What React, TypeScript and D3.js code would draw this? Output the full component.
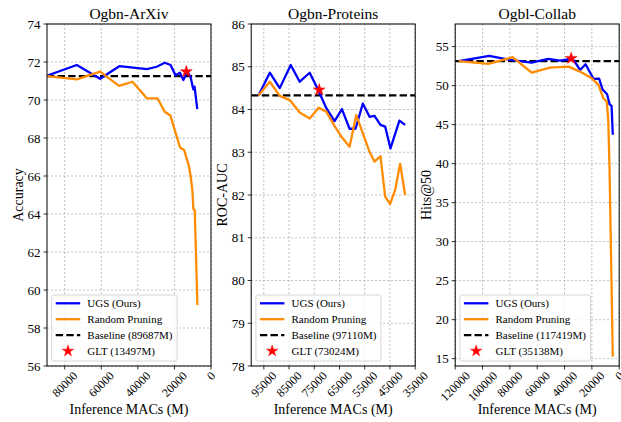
import React from "react";
import * as d3 from "d3";

const FONT = "'Liberation Serif', 'Times New Roman', Times, serif";

// ---------- Ogbn-ArXiv ----------
const arxivUgsMacs = [89687, 73400, 60650, 50200, 35000, 29700, 25300, 22100, 19400, 17000, 15100, 13000, 11200, 9700, 9000, 7500];
const arxivUgsAcc = [71.28, 71.84, 71.12, 71.78, 71.62, 71.75, 71.96, 71.84, 71.3, 71.44, 71.05, 71.49, 71.23, 70.56, 70.7, 69.52];
const arxivRandMacs = [89687, 73400, 60650, 50300, 42950, 35100, 29300, 25300, 22200, 16900, 14700, 12000, 11100, 10200, 9600, 8900, 7430];
const arxivRandAcc = [71.26, 71.09, 71.49, 70.74, 70.96, 70.09, 70.09, 69.38, 69.18, 67.5, 67.37, 66.49, 65.96, 65.26, 64.25, 64.21, 59.21];

// ---------- Ogbn-Proteins ----------
const proteinsUgsMacs = [97110, 92630, 88680, 84330, 80770, 76820, 73540, 70220, 66940, 64050, 61010, 58640, 55750, 53100, 51130, 48770, 46900, 44800, 41250, 39000];
const proteinsUgsAuc = [84.33, 84.86, 84.5, 85.04, 84.65, 84.86, 84.47, 84.03, 83.73, 84.01, 83.55, 83.55, 84.14, 83.83, 83.85, 83.64, 83.6, 83.09, 83.74, 83.64];
const proteinsRandMacs = [97110, 92630, 88680, 84720, 80770, 76820, 73260, 70220, 66940, 64050, 61010, 58360, 55750, 53100, 51130, 48770, 46900, 44920, 42940, 40970, 39000];
const proteinsRandAuc = [84.33, 84.65, 84.32, 84.22, 83.93, 83.79, 84.04, 83.95, 83.61, 83.35, 83.13, 83.87, 83.44, 83.01, 82.78, 82.91, 81.96, 81.79, 82.12, 82.73, 82.0];

// ---------- Ogbl-Collab ----------
const collabUgsMacs = [117419, 95090, 79930, 64030, 51870, 43300, 36480, 33040, 28640, 24600, 18750, 14700, 12150, 8860, 7030, 5570, 4690];
const collabUgsHits = [53.13, 53.81, 53.3, 52.95, 53.42, 53.2, 53.38, 53.2, 52.01, 52.74, 50.85, 50.9, 49.5, 48.9, 47.6, 47.4, 43.7];
const collabRandMacs = [117419, 95820, 77960, 64030, 50620, 37220, 28640, 20070, 15240, 11580, 9080, 8000, 7100, 4690];
const collabRandHits = [53.13, 52.78, 53.64, 51.67, 52.31, 52.44, 51.8, 50.95, 50.09, 48.38, 47.95, 45.6, 39.6, 15.26];

// ---------- per-panel settings ----------
const titles = ["Ogbn-ArXiv", "Ogbn-Proteins", "Ogbl-Collab"];
const yLabels = ["Accuracy", "ROC-AUC", "Hits@50"];
const xLabel = "Inference MACs (M)";
const baselineMacs = [89687, 97110, 117419];
const baselineValues = [71.26, 84.33, 53.13];
const gltMacs = [13497, 73024, 35138];
const gltValues = [71.49, 84.46, 53.5];
const xDomains = [[89687, 0], [100000, 35000], [120000, 0]];
const yDomains = [[56, 74], [78, 86], [14.06, 57.9]];
const xTicks = [
  [80000, 60000, 40000, 20000, 0],
  [95000, 85000, 75000, 65000, 55000, 45000, 35000],
  [120000, 100000, 80000, 60000, 40000, 20000, 0],
];
const yTicks = [
  [56, 58, 60, 62, 64, 66, 68, 70, 72, 74],
  [78, 79, 80, 81, 82, 83, 84, 85, 86],
  [15, 20, 25, 30, 35, 40, 45, 50, 55],
];
const legendNames = ["UGS (Ours)", "Random Pruning"];

const ugsX = [arxivUgsMacs, proteinsUgsMacs, collabUgsMacs];
const ugsY = [arxivUgsAcc, proteinsUgsAuc, collabUgsHits];
const randX = [arxivRandMacs, proteinsRandMacs, collabRandMacs];
const randY = [arxivRandAcc, proteinsRandAuc, collabRandHits];

// ---------- layout ----------
const W = 621;
const H = 422;
const TOP = 24;
const BOTTOM = 366;
const PANEL_W = 164;
const LEFTS = [47, 251.2, 455.2];
const BLUE = "#0000ff";
const ORANGE = "#ff8c00";

let ctx: CanvasRenderingContext2D | null = null;
function textWidth(s: string, size: number): number {
  if (!ctx) {
    const c = document.createElement("canvas");
    ctx = c.getContext("2d");
  }
  if (ctx) {
    ctx.font = `${size}px ${FONT}`;
    return ctx.measureText(s).width;
  }
  return s.length * size * 0.5;
}

function Panel({ i }: { i: number }) {
  const left = LEFTS[i];
  const right = left + PANEL_W;
  const x = d3.scaleLinear().domain(xDomains[i]).range([left, right]);
  const y = d3.scaleLinear().domain(yDomains[i]).range([BOTTOM, TOP]);
  const line = d3
    .line<[number, number]>()
    .x((d) => x(d[0]))
    .y((d) => y(d[1]));
  const ugs = ugsX[i].map((v, k) => [v, ugsY[i][k]] as [number, number]);
  const rnd = randX[i].map((v, k) => [v, randY[i][k]] as [number, number]);
  const star = d3.symbol(d3.symbolStar, 44)()!;
  const starLeg = d3.symbol(d3.symbolStar, 40)()!;
  const clipId = `clip${i}`;

  const tickFs = 12;
  const legFs = 11;
  const legendTexts = [
    legendNames[0],
    legendNames[1],
    `Baseline (${baselineMacs[i]}M)`,
    `GLT (${gltMacs[i]}M)`,
  ];
  const legW = Math.max(...legendTexts.map((t) => textWidth(t, legFs)));
  const boxX = left + 4.7;
  const boxY = 295;
  const boxH = 66;
  const textX = boxX + 35.6;
  const boxW = textX - boxX + legW + 4.6;

  return (
    <g>
      <defs>
        <clipPath id={clipId}>
          <rect x={left} y={TOP} width={PANEL_W} height={BOTTOM - TOP} />
        </clipPath>
      </defs>
      {/* grid */}
      {xTicks[i].map((t) => (
        <line key={"gx" + t} x1={x(t)} x2={x(t)} y1={TOP} y2={BOTTOM} stroke="#b0b0b0" strokeWidth={0.8} strokeDasharray="2,2" />
      ))}
      {yTicks[i].map((t) => (
        <line key={"gy" + t} x1={left} x2={right} y1={y(t)} y2={y(t)} stroke="#b0b0b0" strokeWidth={0.8} strokeDasharray="2,2" />
      ))}
      <g clipPath={`url(#${clipId})`}>
        <line
          x1={left}
          x2={right}
          y1={y(baselineValues[i])}
          y2={y(baselineValues[i])}
          stroke="#000"
          strokeWidth={2.3}
          strokeDasharray="7.4,3.2"
        />
        <path d={line(ugs) || ""} fill="none" stroke={BLUE} strokeWidth={2.3} strokeLinejoin="round" />
        <path d={line(rnd) || ""} fill="none" stroke={ORANGE} strokeWidth={2.3} strokeLinejoin="round" />
      </g>
      <path d={star} transform={`translate(${x(gltMacs[i])},${y(gltValues[i])})`} fill="red" stroke="red" strokeWidth={0.5} />
      {/* frame */}
      <rect x={left} y={TOP} width={PANEL_W} height={BOTTOM - TOP} fill="none" stroke="#000" strokeWidth={1} />
      {/* x ticks */}
      {xTicks[i].map((t) => {
        const label = String(t);
        const w = textWidth(label, tickFs);
        const bb = (w + tickFs * 1.1) * Math.SQRT1_2;
        const cy = BOTTOM + 3 + bb / 2;
        return (
          <g key={"xt" + t}>
            <line x1={x(t)} x2={x(t)} y1={BOTTOM} y2={BOTTOM + 3.5} stroke="#000" strokeWidth={0.8} />
            <text
              transform={`translate(${x(t)},${cy}) rotate(-45)`}
              textAnchor="middle"
              dominantBaseline="central"
              fontSize={tickFs}
              fontFamily={FONT}
              fill="#000"
            >
              {label}
            </text>
          </g>
        );
      })}
      {/* y ticks */}
      {yTicks[i].map((t) => (
        <g key={"yt" + t}>
          <line x1={left - 3.5} x2={left} y1={y(t)} y2={y(t)} stroke="#000" strokeWidth={0.8} />
          <text x={left - 6.5} y={y(t)} dy="0.35em" textAnchor="end" fontSize={13} fontFamily={FONT} fill="#000">
            {t}
          </text>
        </g>
      ))}
      {/* title */}
      <text x={left + PANEL_W / 2} y={18.5} textAnchor="middle" fontSize={15.5} fontFamily={FONT} fill="#000">
        {titles[i]}
      </text>
      {/* x label */}
      <text x={left + PANEL_W / 2} y={413.5} textAnchor="middle" fontSize={14} fontFamily={FONT} fill="#000">
        {xLabel}
      </text>
      {/* y label */}
      <text
        transform={`translate(${left - 29},${(TOP + BOTTOM) / 2}) rotate(-90)`}
        textAnchor="middle"
        dy="0.35em"
        fontSize={14}
        fontFamily={FONT}
        fill="#000"
      >
        {yLabels[i]}
      </text>
      {/* legend */}
      <rect x={boxX} y={boxY} width={boxW} height={boxH} rx={2} fill="#fff" fillOpacity={0.8} stroke="#cccccc" strokeWidth={0.8} />
      {legendTexts.map((t, k) => {
        const ry = boxY + 8.3 + k * 15.9;
        const hx1 = boxX + 4;
        const hx2 = boxX + 28.5;
        return (
          <g key={"lg" + k}>
            {k === 0 && <line x1={hx1} x2={hx2} y1={ry} y2={ry} stroke={BLUE} strokeWidth={2.3} />}
            {k === 1 && <line x1={hx1} x2={hx2} y1={ry} y2={ry} stroke={ORANGE} strokeWidth={2.3} />}
            {k === 2 && <line x1={hx1} x2={hx2} y1={ry} y2={ry} stroke="#000" strokeWidth={2.3} strokeDasharray="7.4,3.2" />}
            {k === 3 && <path d={starLeg} transform={`translate(${(hx1 + hx2) / 2},${ry})`} fill="red" stroke="red" strokeWidth={0.5} />}
            <text x={textX} y={ry} dy="0.35em" fontSize={legFs} fontFamily={FONT} fill="#000">
              {t}
            </text>
          </g>
        );
      })}
    </g>
  );
}

export default function App() {
  return (
    <svg width={W} height={H} viewBox={`0 0 ${W} ${H}`} style={{ display: "block", position: "absolute", left: 0, top: 0, background: "#fff" }}>
      <rect x={0} y={0} width={W} height={H} fill="#fff" />
      {[0, 1, 2].map((i) => (
        <Panel key={i} i={i} />
      ))}
    </svg>
  );
}
